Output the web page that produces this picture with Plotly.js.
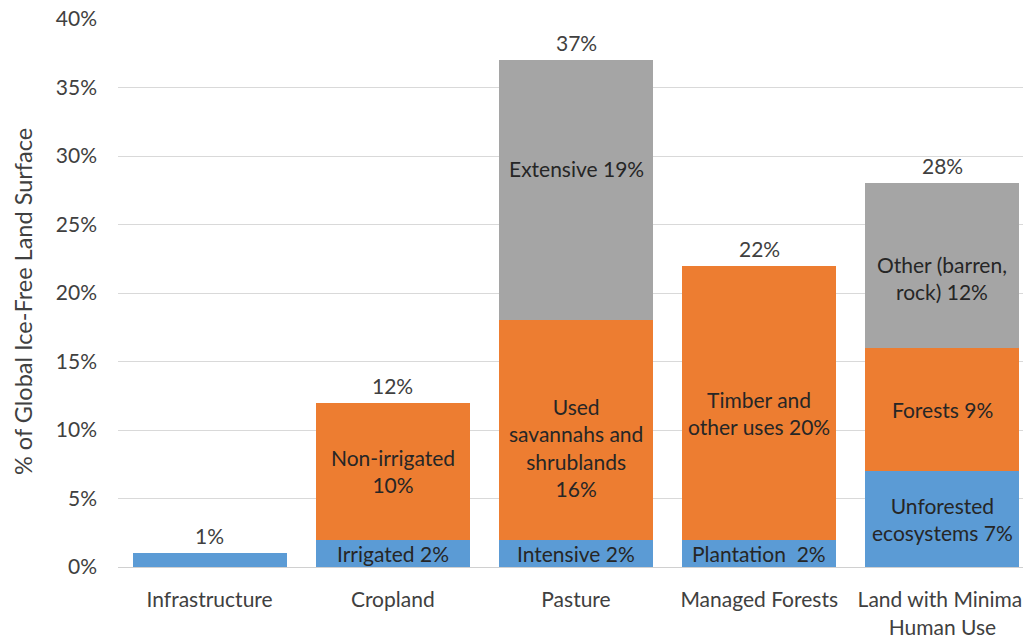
<!DOCTYPE html>
<html>
<head>
<meta charset="utf-8">
<script src="https://cdn.plot.ly/plotly-3.0.1.min.js"></script>
<style>
  html, body { margin: 0; padding: 0; overflow: hidden; background: #fff; }
  #chart { width: 1040px; height: 637px; }
</style>
</head>
<body>
<div id="chart"></div>
<script>
// Land use shares, % of global ice-free land surface
const categories = ['Infrastructure', 'Cropland', 'Pasture', 'Managed Forests', 'Land with Minimal<br>Human Use'];

const lowerValues  = [1, 2, 2, 2, 7];
const middleValues = [0, 10, 16, 20, 9];
const upperValues  = [0, 0, 19, 0, 12];

const lowerLabels  = ['', 'Irrigated 2%', 'Intensive 2%', 'Plantation  2%', 'Unforested<br>ecosystems 7%'];
const middleLabels = ['', 'Non-irrigated<br>10%', 'Used<br>savannahs and<br>shrublands<br>16%', 'Timber and<br>other uses 20%', 'Forests 9%'];
const upperLabels  = ['', '', 'Extensive 19%', '', 'Other (barren,<br>rock) 12%'];

const yTitle = '% of Global Ice-Free Land Surface';

// vertical nudges (px) for a few segment labels
const lowerShift  = [0, 0, 0, 0, 0];
const middleShift = [0, 0, -17, -10, 0];
const upperShift  = [0, 0, 22, 0, -12];

const totals = categories.map((_, i) => lowerValues[i] + middleValues[i] + upperValues[i]);

const FONT = 'Lato, "Open Sans", sans-serif';
const SIZE = 21;
const colors = ['#5B9BD5', '#ED7D31', '#A5A5A5'];

const traces = [lowerValues, middleValues, upperValues].map((vals, k) => ({
  type: 'bar',
  x: categories,
  y: vals,
  marker: { color: colors[k], line: { width: 0 } },
  hoverinfo: 'skip'
}));

const annotations = [];
const layers = [
  { vals: lowerValues, labels: lowerLabels, shift: lowerShift },
  { vals: middleValues, labels: middleLabels, shift: middleShift },
  { vals: upperValues, labels: upperLabels, shift: upperShift }
];
categories.forEach((c, i) => {
  let base = 0;
  layers.forEach(layer => {
    const v = layer.vals[i];
    if (layer.labels[i]) {
      annotations.push({
        x: c, y: base + v / 2, xref: 'x', yref: 'y',
        text: layer.labels[i], showarrow: false,
        yshift: layer.shift[i],
        font: { family: FONT, size: SIZE, color: '#262626' }
      });
    }
    base += v;
  });
  annotations.push({
    x: c, y: totals[i], xref: 'x', yref: 'y',
    text: totals[i] + '%', showarrow: false,
    yanchor: 'bottom', yshift: 3,
    font: { family: FONT, size: SIZE, color: '#404040' }
  });
});

// y-axis title, drawn as a rotated note left of the tick labels
annotations.push({
  xref: 'paper', yref: 'paper', x: 0, y: 0.5,
  xshift: -95, yshift: -9,
  xanchor: 'center', yanchor: 'middle',
  textangle: -90, showarrow: false,
  text: yTitle,
  font: { family: FONT, size: 23.5, color: '#404040' }
});

const layout = {
  width: 1040,
  height: 637,
  margin: { l: 118, r: 6, t: 19, b: 70 },
  barmode: 'stack',
  bargap: 0.16,
  showlegend: false,
  paper_bgcolor: '#ffffff',
  plot_bgcolor: '#ffffff',
  font: { family: FONT, size: SIZE, color: '#404040' },
  xaxis: {
    type: 'category',
    showgrid: false,
    showline: true,
    linecolor: '#d0d0d0',
    linewidth: 1,
    ticks: '',
    ticklabelstandoff: 14,
    tickfont: { family: FONT, size: SIZE, color: '#404040' },
    fixedrange: true
  },
  yaxis: {
    range: [0, 40],
    dtick: 5,
    ticksuffix: '%',
    showgrid: true,
    gridcolor: '#d9d9d9',
    gridwidth: 1,
    zeroline: false,
    ticks: '',
    ticklabelstandoff: 20,
    tickfont: { family: FONT, size: SIZE, color: '#404040' },
    fixedrange: true
  },
  annotations: annotations
};

Plotly.newPlot('chart', traces, layout, { displayModeBar: false, staticPlot: true });
</script>
</body>
</html>
